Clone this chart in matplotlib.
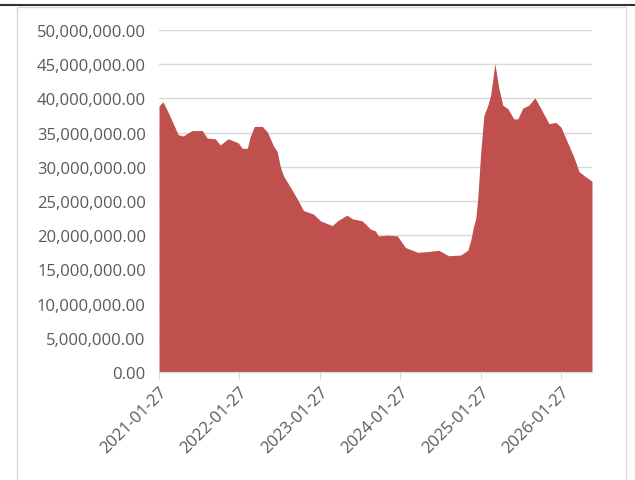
import matplotlib
matplotlib.use("Agg")
import matplotlib.pyplot as plt
from matplotlib.patches import Rectangle
from matplotlib.lines import Line2D
import pandas as pd

# values (millions)
fechas = [
    "2021-01-27", "2021-02-14", "2021-03-18", "2021-04-24", "2021-05-16",
    "2021-06-26", "2021-08-11", "2021-09-03", "2021-10-09", "2021-11-01",
    "2021-12-07", "2022-01-22", "2022-02-09", "2022-03-04", "2022-03-17",
    "2022-04-05", "2022-05-11", "2022-06-03", "2022-06-30", "2022-07-18",
    "2022-08-01", "2022-08-15", "2022-09-16", "2022-10-17", "2022-11-14",
    "2022-12-29", "2023-01-30", "2023-03-25", "2023-04-17", "2023-05-23",
    "2023-06-01", "2023-06-24", "2023-08-08", "2023-09-14", "2023-10-07",
    "2023-10-20", "2023-11-30", "2024-01-15", "2024-01-29", "2024-02-20",
    "2024-04-15", "2024-05-30", "2024-07-20", "2024-09-03", "2024-10-28",
    "2024-11-29", "2024-12-12", "2024-12-26", "2025-01-04", "2025-01-13",
    "2025-01-27", "2025-02-10", "2025-02-28", "2025-03-13", "2025-04-01",
    "2025-04-19", "2025-05-07", "2025-05-30", "2025-06-26", "2025-07-14",
    "2025-08-06", "2025-09-02", "2025-09-30", "2025-10-27", "2025-12-03",
    "2026-01-03", "2026-01-26", "2026-02-27", "2026-03-26", "2026-04-18",
    "2026-05-20", "2026-06-16",
]
valores_m = [
    38.9, 39.5, 37.4, 34.7, 34.5,
    35.3, 35.3, 34.2, 34.1, 33.2,
    34.1, 33.5, 32.7, 32.7, 34.4,
    35.9, 35.9, 35.1, 33.1, 32.2,
    30.0, 28.7, 27.0, 25.3, 23.6,
    23.1, 22.1, 21.4, 22.1, 22.8,
    22.9, 22.4, 22.1, 20.9, 20.6,
    19.9, 20.0, 19.9, 19.2, 18.2,
    17.5, 17.6, 17.8, 17.0, 17.1,
    17.8, 19.2, 21.4, 22.4, 25.3,
    32.2, 37.5, 39.0, 40.5, 45.1,
    41.5, 39.0, 38.5, 37.0, 37.0,
    38.6, 39.0, 40.1, 38.5, 36.3,
    36.5, 35.8, 33.4, 31.4, 29.3,
    28.5, 27.9,
]
etiquetas_x = ["2021-01-27", "2022-01-27", "2023-01-27",
               "2024-01-27", "2025-01-27", "2026-01-27"]

x = pd.to_datetime(fechas)
y = [v * 1e6 for v in valores_m]
ticks_x = pd.to_datetime(etiquetas_x)

gris = "#595959"
fig = plt.figure(figsize=(6.35, 4.81), dpi=100)
ax = fig.add_axes([159 / 635, 1 - 373 / 481, (592 - 159) / 635, (373 - 31) / 481])

ax.fill_between(x, 0, y, color="#C0504D", linewidth=0)

ax.set_xlim(x[0], x[-1])
ax.set_ylim(0, 50e6)
ax.set_yticks([i * 5e6 for i in range(11)])
ax.yaxis.set_major_formatter(plt.FuncFormatter(lambda v, p: "{:,.2f}".format(v)))
ax.set_xticks(ticks_x)
ax.set_xticklabels(etiquetas_x, rotation=45, ha="right", rotation_mode="anchor")

ax.grid(axis="y", color="#D9D9D9", linewidth=1)
ax.set_axisbelow(True)
for s in ["top", "right", "left"]:
    ax.spines[s].set_visible(False)
ax.spines["bottom"].set_color("#D9D9D9")
ax.tick_params(axis="y", length=0, pad=9.5, labelsize=12, labelcolor=gris)
ax.tick_params(axis="x", length=5, color="#D9D9D9", pad=3, labelsize=12, labelcolor=gris)
for t in ax.get_xticklabels() + ax.get_yticklabels():
    t.set_family("Open Sans")

# marco del grafico y linea superior
fig.patches.append(Rectangle((17 / 635, -0.1), (626 - 17) / 635, 1.1 - 8 / 481,
                             transform=fig.transFigure, fill=False,
                             edgecolor="#D9D9D9", linewidth=1))
fig.lines.append(Line2D([0, 1], [1 - 6 / 481, 1 - 6 / 481], transform=fig.transFigure,
                        color="#333333", linewidth=1.5))

fig.savefig("out.png", dpi=100)
